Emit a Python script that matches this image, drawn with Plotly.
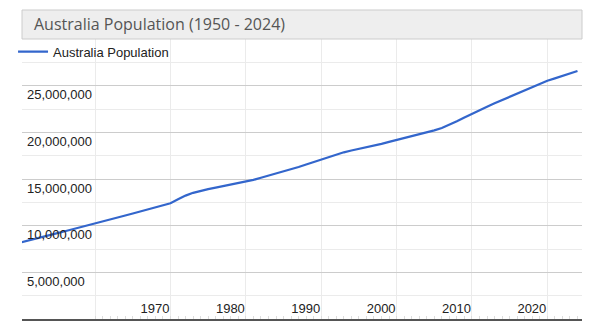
import plotly.graph_objects as go

# Australia population, mid-year estimates (millions of people)
years = list(range(1950, 2025))
population_millions = [
    8.18, 8.40, 8.62, 8.82, 9.01, 9.20, 9.40, 9.62, 9.83, 10.05,
    10.27, 10.48, 10.69, 10.89, 11.09, 11.30, 11.51, 11.71, 11.93, 12.15,
    12.40, 12.82, 13.22, 13.52, 13.74, 13.92, 14.08, 14.23, 14.38, 14.53,
    14.68, 14.90, 15.13, 15.35, 15.57, 15.80, 16.04, 16.28, 16.55, 16.82,
    17.08, 17.37, 17.63, 17.86, 18.05, 18.22, 18.39, 18.57, 18.77, 18.98,
    19.18, 19.39, 19.60, 19.81, 20.00, 20.21, 20.46, 20.80, 21.19, 21.60,
    22.01, 22.38, 22.75, 23.11, 23.46, 23.80, 24.14, 24.50, 24.87, 25.23,
    25.53, 25.78, 26.02, 26.30, 26.58,
]
population = [round(v * 1_000_000) for v in population_millions]

series_name = "Australia Population"
chart_title = "Australia Population (1950 - 2024)"

x_tick_years = [1960, 1970, 1980, 1990, 2000, 2010, 2020]
x_tick_text = ["", "1970", "1980", "1990", "2000", "2010", "2020"]
y_tick_values = [0, 5_000_000, 10_000_000, 15_000_000, 20_000_000, 25_000_000, 30_000_000]
y_tick_text = ["", "5,000,000", "10,000,000", "15,000,000", "20,000,000", "25,000,000", ""]

fig = go.Figure()
fig.add_trace(go.Scatter(
    x=years,
    y=population,
    mode="lines",
    name=series_name,
    line=dict(color="#3366cc", width=2.2),
    showlegend=True,
    hoverinfo="skip",
))

fig.update_layout(
    width=600,
    height=330,
    margin=dict(l=22, r=18, t=39, b=11, autoexpand=False),
    paper_bgcolor="white",
    plot_bgcolor="white",
    font=dict(family="Arial, Liberation Sans, sans-serif", size=13, color="#222222"),
    showlegend=True,
    legend=dict(
        x=-0.016, y=0.955, xanchor="left", yanchor="middle",
        bgcolor="rgba(0,0,0,0)", borderwidth=0,
        font=dict(family="Arial, Liberation Sans, sans-serif", size=13, color="#222222"),
    ),
    xaxis=dict(
        range=[1950.3, 2024.6],
        tickmode="array",
        tickvals=x_tick_years,
        ticktext=x_tick_text,
        ticklabelposition="inside left",
        tickfont=dict(size=13, color="#222222"),
        ticks="",
        showgrid=True,
        gridcolor="#ebebeb",
        gridwidth=1,
        zeroline=False,
        showline=True,
        linecolor="#555555",
        linewidth=2,
        minor=dict(tickmode="linear", tick0=1950, dtick=1, ticks="inside",
                   ticklen=3, tickcolor="#dddddd", showgrid=False),
        fixedrange=True,
    ),
    yaxis=dict(
        range=[0, 30_000_000],
        tickmode="array",
        tickvals=y_tick_values,
        ticktext=y_tick_text,
        ticklabelposition="inside bottom",
        ticklabelstandoff=2,
        tickfont=dict(size=13, color="#222222"),
        ticks="",
        showgrid=True,
        gridcolor="#cccccc",
        gridwidth=1,
        zeroline=False,
        showline=False,
        minor=dict(tickmode="linear", tick0=0, dtick=2_500_000,
                   showgrid=True, gridcolor="#ebebeb", gridwidth=1),
        fixedrange=True,
    ),
)

# Title banner across the top of the chart
fig.add_shape(
    type="rect", xref="paper", yref="paper",
    x0=0, x1=1, y0=1.0, y1=1.1036,
    fillcolor="#eeeeee", line=dict(color="#cccccc", width=1), layer="above",
)
fig.add_annotation(
    text=chart_title, xref="paper", yref="paper",
    x=0, y=1.052, xanchor="left", yanchor="middle", xshift=10,
    showarrow=False,
    font=dict(family="Open Sans, sans-serif", size=16, color="#555555"),
)

fig.write_html("out.html")
